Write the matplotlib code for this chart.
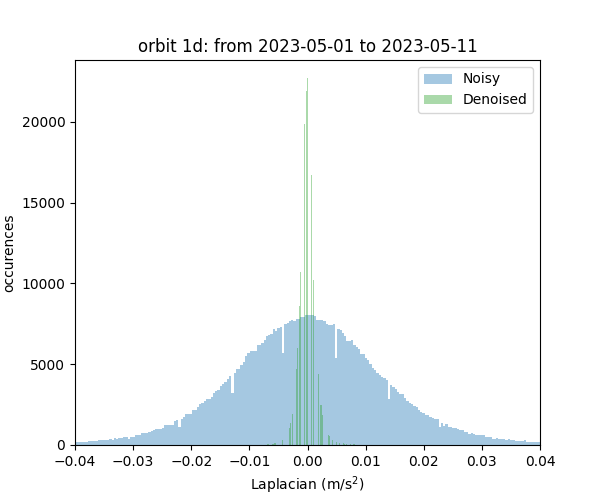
import numpy as np
import matplotlib
matplotlib.use("Agg")
import matplotlib.pyplot as plt

# Noisy histogram: bin layout and counts
noisy_bin_start = -0.040055
noisy_bin_width = 0.00039622
noisy_counts = [
    165, 165, 165, 165, 165, 165, 227, 227, 227, 227,
    288, 288, 288, 288, 288, 350, 288, 412, 371, 412,
    412, 474, 474, 350, 515, 515, 597, 620, 639, 721,
    721, 762, 824, 865, 906, 989, 989, 1009, 1071, 1236,
    1236, 1236, 1236, 1483, 1545, 1133, 1586, 1751, 1916, 1916,
    1916, 2163, 2163, 2328, 2513, 2616, 2699, 2822, 2863, 2946,
    3193, 3337, 3399, 3646, 3749, 3920, 4080, 4264, 3234, 4470,
    4717, 4717, 4923, 5109, 5500, 5706, 5809, 5830, 5830, 6180,
    6180, 6324, 6489, 6736, 6839, 6860, 7210, 7066, 7272, 7290,
    5706, 7519, 7560, 7684, 7725, 7684, 7787, 7787, 7931, 7931,
    8034, 8034, 8034, 8034, 7972, 7766, 7766, 7725, 7663, 7519,
    7457, 7457, 7519, 5356, 7160, 7107, 6963, 6757, 6448, 6448,
    6489, 6221, 6077, 5933, 5624, 5624, 5397, 5232, 5006, 4759,
    4635, 4470, 4326, 4182, 4120, 4017, 2843, 3708, 3605, 3461,
    3296, 3152, 3131, 2884, 2719, 2616, 2534, 2410, 2369, 2163,
    2039, 1998, 1854, 1854, 1710, 1648, 1586, 1627, 1133, 1339,
    1195, 1277, 1092, 1092, 1071, 1071, 1009, 927, 927, 790,
    790, 700, 742, 659, 618, 597, 597, 597, 515, 515,
    515, 391, 391, 453, 350, 371, 371, 330, 371, 288,
    288, 247, 247, 247, 247, 288, 206, 206, 206, 206,
    206, 165,
]

# Denoised histogram: bin centres and counts
denoised_centers = [
    -0.00692, -0.00675, -0.00610, -0.00593, -0.00565, -0.00548,
    -0.00435, -0.00310, -0.00289, -0.00258,
    -0.00194, -0.00175, -0.00143, -0.00120, -0.00052, -0.00022, -0.00005,
    0.00069, 0.00108, 0.00189, 0.00232, 0.00255, 0.00361, 0.00382,
    0.00427, 0.00495, 0.00547, 0.00616, 0.00633, 0.00667, 0.00736,
    0.00790, 0.00807,
]
denoised_counts = [
    62, 62, 62, 62, 124, 124,
    310, 1050, 1360, 1916,
    4700, 6000, 8600, 10700, 19900, 21900, 22700,
    16700, 10200, 4400, 2480, 1860, 618, 540,
    309, 185, 124, 124, 82, 62, 62,
    62, 62,
]
denoised_bar_width = 0.00018

title = "orbit 1d: from 2023-05-01 to 2023-05-11"

fig, ax = plt.subplots(figsize=(6, 5), dpi=100)

edges = noisy_bin_start + noisy_bin_width * np.arange(len(noisy_counts) + 1)
centers = 0.5 * (edges[:-1] + edges[1:])
ax.hist(centers, bins=edges, weights=noisy_counts, alpha=0.4,
        color="tab:blue", label="Noisy")
ax.bar(denoised_centers, denoised_counts, width=denoised_bar_width,
       alpha=0.4, color="tab:green", label="Denoised")

ax.set_xlim(-0.04, 0.04)
ax.set_ylim(0, 23835)
ax.set_title(title)
ax.set_xlabel("Laplacian (m/s$^2$)")
ax.set_ylabel("occurences")
ax.legend(loc="upper right")

fig.savefig("out.png", dpi=100)
